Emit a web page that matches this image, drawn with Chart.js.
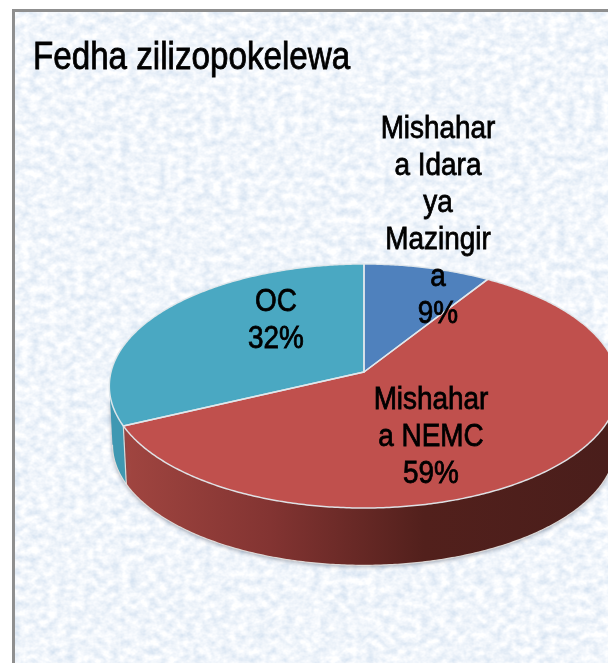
<!DOCTYPE html>
<html><head><meta charset="utf-8">
<style>
html,body{margin:0;padding:0;background:#fff;width:613px;height:663px;overflow:hidden}
#bg{position:absolute;left:12px;top:9px;width:596px;height:654px;display:block}
#frame{position:absolute;left:12px;top:9px;width:593px;height:651px;border:3px solid #8f8f8f;border-right:none;border-bottom:none}
canvas{position:absolute;left:0;top:0}
</style>
<script src="https://cdn.jsdelivr.net/npm/chart.js@4"></script>
</head><body>
<svg id="bg" xmlns="http://www.w3.org/2000/svg">
<filter id="tex" x="0" y="0" width="100%" height="100%">
<feTurbulence type="fractalNoise" baseFrequency="0.11 0.13" numOctaves="3" seed="11"/>
<feColorMatrix type="matrix" values="0.50 0 0 0 0.625  0.36 0 0 0 0.735  0.20 0 0 0 0.865  0 0 0 0 1"/>
</filter>
<rect width="100%" height="100%" filter="url(#tex)"/>
</svg>
<div id="frame"></div>
<canvas id="c" width="608" height="663"></canvas>
<script>
const titleText = 'Fedha zilizopokelewa';
const categories = ['Mishahara Idara ya Mazingira', 'Mishahara NEMC', 'OC'];
const shares = [9, 59, 32];
const sliceColors = ['#4f81bd', '#c0504d', '#4aa8c2'];
const wrappedLabels = [
  ['Mishahar', 'a Idara', 'ya', 'Mazingir', 'a'],
  ['Mishahar', 'a NEMC'],
  ['OC']
];
const labelSpots = [[438, 129], [431, 400], [276, 302]];

const FONT = '"Liberation Sans", Arial, sans-serif';
const view = {cx: 364, cy: 372, A: 253, B: 120.4, persp: 0.1148, depth: 59, shrink: 0.9875};

function project(theta, low) {
  const s = Math.sin(theta), c = Math.cos(theta), w = 1 + view.persp * c;
  let x = view.A * s / w, y = -view.B * c / w;
  if (low) { x *= view.shrink; y = y * view.shrink + view.depth; }
  return [view.cx + x, view.cy + y];
}
function arcPath(ctx, a, b, low, move) {
  const n = Math.max(4, Math.ceil(Math.abs(b - a) / 0.01));
  for (let i = 0; i <= n; i++) {
    const p = project(a + (b - a) * i / n, low);
    if (i === 0 && move) ctx.moveTo(p[0], p[1]); else ctx.lineTo(p[0], p[1]);
  }
}
function wallFill(ctx, i) {
  if (i !== 1) return '#3f98b2';
  const g = ctx.createLinearGradient(125, 0, 608, 0);
  g.addColorStop(0, '#a04540');
  g.addColorStop(0.3, '#833432');
  g.addColorStop(0.62, '#52201c');
  g.addColorStop(1, '#4a1e1b');
  return g;
}
function stretchedText(ctx, t, x, y, xs, w) {
  ctx.save();
  ctx.translate(x, y);
  ctx.scale(xs, 1);
  ctx.lineWidth = w;
  ctx.fillText(t, 0, 0);
  ctx.strokeText(t, 0, 0);
  ctx.restore();
}
const pie3d = {
  id: 'pie3d',
  beforeDatasetDraw(chart, args) {
    const ctx = chart.ctx, arcs = args.meta.data;
    const ang = arcs.map(el => {
      const p = el.getProps(['startAngle', 'endAngle'], true);
      return [p.startAngle + Math.PI / 2, p.endAngle + Math.PI / 2];
    });
    const seam = ang[2][0];
    // silhouette angles of the projected rim, right and left
    const off = Math.acos(-view.persp);
    const thetaR = off, thetaL = 2 * Math.PI - off;
    ctx.save();
    ctx.lineJoin = 'round';
    ctx.save();
    ctx.shadowColor = 'rgba(70,80,100,0.5)';
    ctx.shadowBlur = 4; ctx.shadowOffsetY = 1.5;
    ctx.beginPath();
    arcPath(ctx, thetaR, seam, false, true);
    arcPath(ctx, seam, thetaR, true, false);
    ctx.closePath();
    ctx.fillStyle = wallFill(ctx, 1);
    ctx.fill();
    ctx.beginPath();
    arcPath(ctx, seam, thetaL, false, true);
    arcPath(ctx, thetaL, seam, true, false);
    ctx.closePath();
    ctx.fillStyle = wallFill(ctx, 2);
    ctx.fill();
    ctx.restore();
    // pale rim along the lower edge and the seam
    ctx.strokeStyle = 'rgba(228,226,224,0.9)';
    ctx.lineWidth = 1.2;
    ctx.beginPath();
    arcPath(ctx, thetaR, thetaL, true, true);
    ctx.stroke();
    ctx.beginPath();
    const s0 = project(seam, false), s1 = project(seam, true);
    ctx.moveTo(s0[0], s0[1]); ctx.lineTo(s1[0], s1[1]);
    ctx.stroke();
    // top faces
    ang.forEach(([a, b], i) => {
      ctx.beginPath();
      ctx.moveTo(view.cx, view.cy);
      arcPath(ctx, a, b, false, false);
      ctx.closePath();
      ctx.fillStyle = arcs[i].options.backgroundColor;
      ctx.fill();
    });
    ctx.strokeStyle = 'rgba(226,232,236,0.95)';
    ctx.lineWidth = 1.5;
    ang.forEach(([a, b]) => {
      ctx.beginPath();
      ctx.moveTo(view.cx, view.cy);
      arcPath(ctx, a, b, false, false);
      ctx.closePath();
      ctx.stroke();
    });
    ctx.restore();
    return false;
  },
  afterDraw(chart) {
    const ctx = chart.ctx, lh = 37;
    const total = shares.reduce((s, v) => s + v, 0);
    ctx.save();
    ctx.fillStyle = '#000';
    ctx.strokeStyle = '#000';
    ctx.textBaseline = 'middle';
    ctx.textAlign = 'left';
    ctx.font = '38px ' + FONT;
    stretchedText(ctx, titleText, 33, 59, 0.873, 0.8);
    ctx.font = '31px ' + FONT;
    ctx.textAlign = 'center';
    wrappedLabels.forEach((lines, i) => {
      const all = lines.concat(Math.round(shares[i] / total * 100) + '%');
      all.forEach((t, k) => {
        stretchedText(ctx, t, labelSpots[i][0], labelSpots[i][1] + k * lh, 0.9, 0.8);
      });
    });
    ctx.restore();
  }
};
new Chart(document.getElementById('c'), {
  type: 'pie',
  data: {
    labels: categories,
    datasets: [{data: shares, backgroundColor: sliceColors, borderWidth: 0}]
  },
  options: {
    responsive: false,
    animation: false,
    plugins: {
      legend: {display: false},
      tooltip: {enabled: false},
      title: {display: false}
    }
  },
  plugins: [pie3d]
});
</script>
</body></html>
